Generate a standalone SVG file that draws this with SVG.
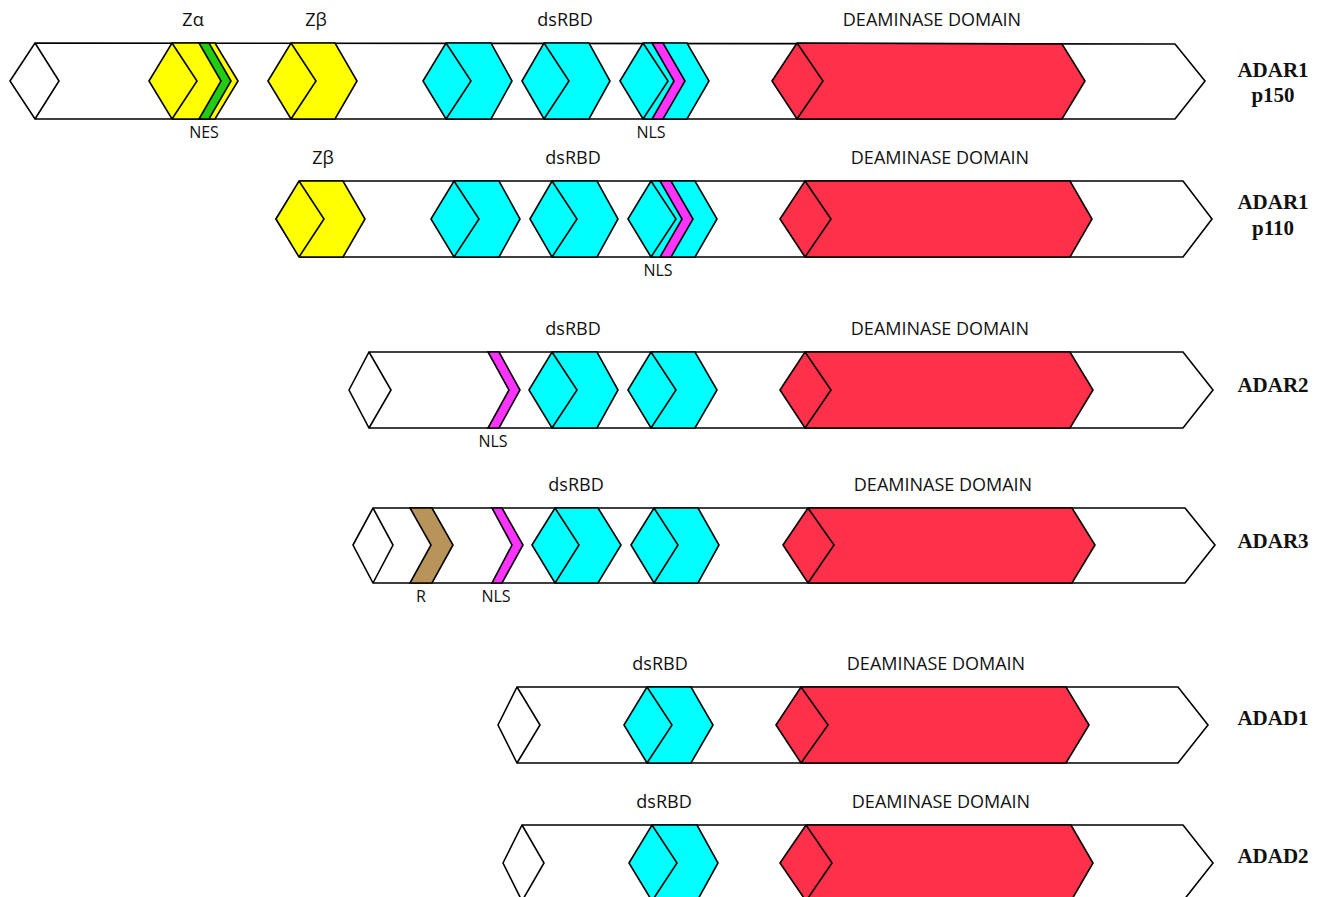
<svg xmlns="http://www.w3.org/2000/svg" width="1324" height="897" viewBox="0 0 1324 897">
<style>
polygon,polyline{stroke:#000;stroke-width:1.6;stroke-linejoin:miter}
.body{fill:#fff}
.ln{fill:none}
.z{fill:#ffff00}
.ds{fill:#00ffff}
.dm{fill:#ff3049}
.nls{fill:#ff33ff}
.nes{fill:#22cc11}
.r{fill:#b8935a}
.lab{font-family:"Open Sans","Liberation Sans",sans-serif;font-size:18px;fill:#111;text-anchor:middle}
.sm{font-family:"Open Sans","Liberation Sans",sans-serif;font-size:16px;fill:#111;text-anchor:middle}
.name{font-family:"Liberation Serif","Times New Roman",serif;font-weight:bold;font-size:21px;fill:#111;text-anchor:middle}
</style>
<rect width="1324" height="897" fill="#fff"/>

<g id="adar1-p150">
<polygon class="body" points="10,81 35,43 1175,44 1205,81 1175,119 35,119"/>
<polyline class="ln" points="35,43 59,81 35,119"/>
<polygon class="z" points="149,81 172,43 215,43 238,81 215,119 172,119"/>
<polyline class="ln" points="172,43 197,81 172,119"/>
<polygon class="nes" points="199,43 209,43 231,81 209,119 199,119 221,81"/>
<polygon class="z" points="268,81 291,43 335,43 357,81 335,119 291,119"/>
<polyline class="ln" points="291,43 316,81 291,119"/>
<polygon class="ds" points="423,81 446,43 491,43 512,81 491,119 446,119"/>
<polyline class="ln" points="446,43 471,81 446,119"/>
<polygon class="ds" points="522,81 544,43 589,43 610,81 589,119 544,119"/>
<polyline class="ln" points="544,43 569,81 544,119"/>
<polygon class="ds" points="620,81 643,43 687,43 709,81 687,119 643,119"/>
<polyline class="ln" points="643,43 668,81 643,119"/>
<polygon class="nls" points="652,43 663,43 685,81 663,119 652,119 674,81"/>
<polygon class="dm" points="772,81 797,43 1062,44 1085,81 1062,119 797,119"/>
<polyline class="ln" points="797,43 823,81 797,119"/>
<text class="lab" x="193" y="26">Zα</text>
<text class="lab" x="316" y="26">Zβ</text>
<text class="lab" x="565" y="26">dsRBD</text>
<text class="lab" x="932" y="26">DEAMINASE DOMAIN</text>
<text class="sm" x="204" y="138">NES</text>
<text class="sm" x="651" y="138">NLS</text>
<text class="name" x="1273" y="77">ADAR1</text>
<text class="name" x="1273" y="102">p150</text>
</g>

<g id="adar1-p110">
<polygon class="body" points="276,219 300,181 1183,181 1212,219 1183,257 300,257"/>
<polygon class="z" points="276,219 299,181 343,181 365,219 343,257 299,257"/>
<polyline class="ln" points="299,181 324,219 299,257"/>
<polygon class="ds" points="431,219 454,181 499,181 520,219 499,257 454,257"/>
<polyline class="ln" points="454,181 479,219 454,257"/>
<polygon class="ds" points="530,219 552,181 597,181 618,219 597,257 552,257"/>
<polyline class="ln" points="552,181 577,219 552,257"/>
<polygon class="ds" points="628,219 651,181 695,181 717,219 695,257 651,257"/>
<polyline class="ln" points="651,181 676,219 651,257"/>
<polygon class="nls" points="660,181 671,181 693,219 671,257 660,257 682,219"/>
<polygon class="dm" points="780,219 805,181 1070,181 1092,219 1070,257 805,257"/>
<polyline class="ln" points="805,181 831,219 805,257"/>
<text class="lab" x="323" y="164">Zβ</text>
<text class="lab" x="573" y="164">dsRBD</text>
<text class="lab" x="940" y="164">DEAMINASE DOMAIN</text>
<text class="sm" x="658" y="276">NLS</text>
<text class="name" x="1273" y="209">ADAR1</text>
<text class="name" x="1273" y="235">p110</text>
</g>

<g id="adar2">
<polygon class="body" points="349,390 369,352 1183,352 1213,390 1183,428 369,428"/>
<polyline class="ln" points="369,352 391,390 369,428"/>
<polygon class="nls" points="488,352 499,352 520,390 499,428 488,428 509,390"/>
<polygon class="ds" points="529,390 552,352 597,352 618,390 597,428 552,428"/>
<polyline class="ln" points="552,352 577,390 552,428"/>
<polygon class="ds" points="628,390 651,352 695,352 717,390 695,428 651,428"/>
<polyline class="ln" points="651,352 676,390 651,428"/>
<polygon class="dm" points="780,390 805,352 1070,352 1093,390 1070,428 805,428"/>
<polyline class="ln" points="805,352 831,390 805,428"/>
<text class="lab" x="573" y="335">dsRBD</text>
<text class="lab" x="940" y="335">DEAMINASE DOMAIN</text>
<text class="sm" x="493" y="447">NLS</text>
<text class="name" x="1273" y="392">ADAR2</text>
</g>

<g id="adar3">
<polygon class="body" points="353,545 373,508 1185,508 1215,545 1185,583 373,583"/>
<polyline class="ln" points="373,508 393,545 373,583"/>
<polygon class="r" points="410,508 432,508 453,545 432,583 410,583 431,545"/>
<polygon class="nls" points="492,508 502,508 523,545 502,583 492,583 512,545"/>
<polygon class="ds" points="532,545 555,508 598,508 621,545 598,583 555,583"/>
<polyline class="ln" points="555,508 579,545 555,583"/>
<polygon class="ds" points="631,545 654,508 698,508 719,545 698,583 654,583"/>
<polyline class="ln" points="654,508 678,545 654,583"/>
<polygon class="dm" points="783,545 808,508 1072,508 1095,545 1072,583 808,583"/>
<polyline class="ln" points="808,508 834,545 808,583"/>
<text class="lab" x="576" y="491">dsRBD</text>
<text class="lab" x="943" y="491">DEAMINASE DOMAIN</text>
<text class="sm" x="421" y="602">R</text>
<text class="sm" x="496" y="602">NLS</text>
<text class="name" x="1273" y="548">ADAR3</text>
</g>

<g id="adad1">
<polygon class="body" points="498,725 517,687 1178,687 1208,725 1178,763 517,763"/>
<polyline class="ln" points="517,687 540,725 517,763"/>
<polygon class="ds" points="624,725 647,687 691,687 713,725 691,763 647,763"/>
<polyline class="ln" points="647,687 672,725 647,763"/>
<polygon class="dm" points="776,725 801,687 1066,687 1089,725 1066,763 801,763"/>
<polyline class="ln" points="801,687 828,725 801,763"/>
<text class="lab" x="660" y="670">dsRBD</text>
<text class="lab" x="936" y="670">DEAMINASE DOMAIN</text>
<text class="name" x="1273" y="725">ADAD1</text>
</g>

<g id="adad2">
<polygon class="body" points="503,863 522,825 1183,825 1213,863 1183,901 522,901"/>
<polyline class="ln" points="522,825 544,863 522,901"/>
<polygon class="ds" points="629,863 652,825 697,825 718,863 697,901 652,901"/>
<polyline class="ln" points="652,825 677,863 652,901"/>
<polygon class="dm" points="780,863 806,825 1071,825 1093,863 1071,901 806,901"/>
<polyline class="ln" points="806,825 832,863 806,901"/>
<text class="lab" x="664" y="808">dsRBD</text>
<text class="lab" x="941" y="808">DEAMINASE DOMAIN</text>
<text class="name" x="1273" y="863">ADAD2</text>
</g>

<g id="connectors"/>
</svg>
